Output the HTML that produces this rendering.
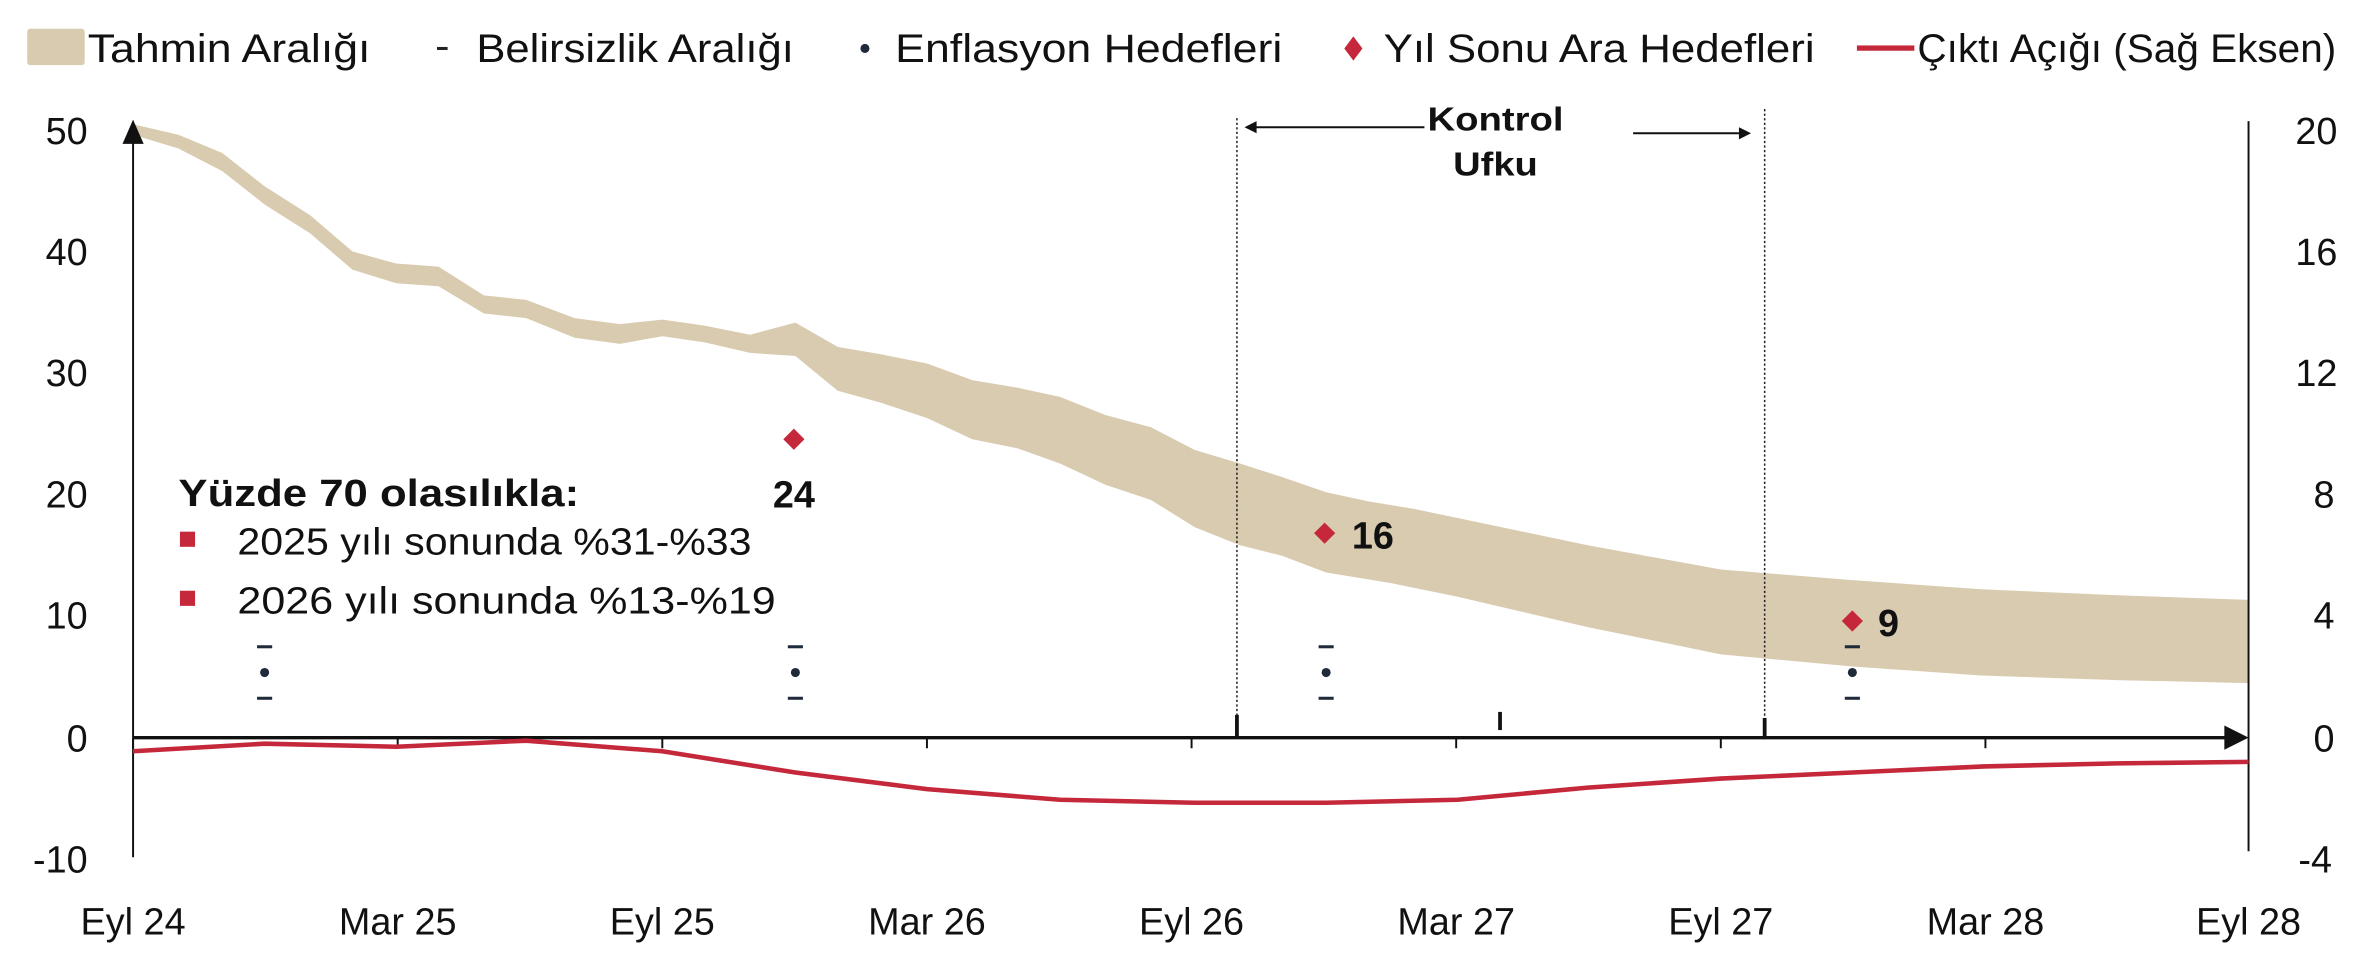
<!DOCTYPE html>
<html><head><meta charset="utf-8"><style>
html,body{margin:0;padding:0;background:#fff;}
svg{display:block;}
text{font-family:"Liberation Sans",sans-serif;fill:#111;}
</style></head><body>
<svg width="2368" height="980" viewBox="0 0 1566 647" preserveAspectRatio="none" xmlns="http://www.w3.org/2000/svg">
<!-- legend -->
<rect x="18" y="19" width="38" height="24" rx="2" fill="#d9cbb0"/>
<text x="58" y="41" font-size="26" textLength="187" lengthAdjust="spacingAndGlyphs">Tahmin Aralığı</text>
<rect x="289" y="31" width="7" height="2" fill="#222"/>
<text x="315" y="41" font-size="26" textLength="210" lengthAdjust="spacingAndGlyphs">Belirsizlik Aralığı</text>
<circle cx="572" cy="32" r="3" fill="#1f2a3a"/>
<text x="592" y="41" font-size="26" textLength="256" lengthAdjust="spacingAndGlyphs">Enflasyon Hedefleri</text>
<polygon points="895,24 901,32 895,40 889,32" fill="#c4283a"/>
<text x="915" y="41" font-size="26" textLength="285" lengthAdjust="spacingAndGlyphs">Yıl Sonu Ara Hedefleri</text>
<rect x="1228" y="30" width="38" height="3.5" fill="#c4283a"/>
<text x="1268" y="41" font-size="26" textLength="277" lengthAdjust="spacingAndGlyphs">Çıktı Açığı (Sağ Eksen)</text>

<!-- band -->
<polygon fill="#d9cbb0" points="88,82 118,89 147,101 175,123 205,142 233,166 262,174 290,176 320,195 348,198 380,210 410,214 438,211 466,215 496,221 526,213 554,229 583,234 613,240 643,251 673,256 701,262 731,274 761,282 790,297 820,306 848,315 877,325 905,331 935,336 964,342 1050,360 1138,376 1225,383 1310,389 1400,393 1487,396
1487,451 1400,449 1310,446 1225,440 1138,432 1050,414 964,394 920,385 877,378 848,367 820,360 790,348 761,330 731,320 701,306 673,296 643,290 613,276 583,266 554,258 526,235 496,233 466,226 438,222 410,227 380,223 348,210 320,207 290,189 262,187 233,178 205,154 175,135 147,113 118,98 88,89"/>

<!-- dotted lines -->
<line x1="818" y1="78" x2="818" y2="485" stroke="#222" stroke-width="1" stroke-dasharray="1.5,1.5"/>
<line x1="1167" y1="72" x2="1167" y2="485" stroke="#222" stroke-width="1" stroke-dasharray="1.5,1.5"/>
<!-- Kontrol Ufku -->
<text x="989" y="86" font-size="22" font-weight="bold" text-anchor="middle" textLength="90" lengthAdjust="spacingAndGlyphs">Kontrol</text>
<text x="989" y="116" font-size="22" font-weight="bold" text-anchor="middle" textLength="56" lengthAdjust="spacingAndGlyphs">Ufku</text>
<line x1="942" y1="84" x2="830" y2="84" stroke="#111" stroke-width="1.3"/>
<polygon points="823,84 831,80 831,88" fill="#111"/>
<line x1="1080" y1="88" x2="1150" y2="88" stroke="#111" stroke-width="1.3"/>
<polygon points="1158,88 1150,84 1150,92" fill="#111"/>

<!-- axes -->
<line x1="88" y1="92" x2="88" y2="566" stroke="#111" stroke-width="1.3"/>
<polygon points="88,79 81,95 95,95" fill="#111"/>
<line x1="1487" y1="80" x2="1487" y2="562" stroke="#111" stroke-width="1.3"/>
<line x1="88" y1="487" x2="1474" y2="487" stroke="#111" stroke-width="2.2"/>
<polygon points="1487,487 1471,479 1471,495" fill="#111"/>
<g stroke="#111" stroke-width="1.3">
<line x1="88" y1="487" x2="88" y2="494"/><line x1="263" y1="487" x2="263" y2="494"/><line x1="438" y1="487" x2="438" y2="494"/><line x1="613" y1="487" x2="613" y2="494"/><line x1="788" y1="487" x2="788" y2="494"/><line x1="963" y1="487" x2="963" y2="494"/><line x1="1138" y1="487" x2="1138" y2="494"/><line x1="1313" y1="487" x2="1313" y2="494"/>
</g>
<g stroke="#111" stroke-width="2.5">
<line x1="818" y1="472" x2="818" y2="486"/><line x1="992" y1="470" x2="992" y2="482"/><line x1="1167" y1="474" x2="1167" y2="488"/>
</g>

<!-- left ticks -->
<g font-size="25" text-anchor="end">
<text x="58" y="95">50</text><text x="58" y="175">40</text><text x="58" y="255">30</text><text x="58" y="335">20</text><text x="58" y="415">10</text><text x="58" y="496">0</text><text x="58" y="576">-10</text>
</g>
<g font-size="25" text-anchor="start">
<text x="1518" y="95">20</text><text x="1518" y="175">16</text><text x="1518" y="255">12</text><text x="1530" y="335">8</text><text x="1530" y="415">4</text><text x="1530" y="496">0</text><text x="1520" y="576">-4</text>
</g>
<g font-size="25" text-anchor="middle">
<text x="88" y="617">Eyl 24</text><text x="263" y="617">Mar 25</text><text x="438" y="617">Eyl 25</text><text x="613" y="617">Mar 26</text><text x="788" y="617">Eyl 26</text><text x="963" y="617">Mar 27</text><text x="1138" y="617">Eyl 27</text><text x="1313" y="617">Mar 28</text><text x="1487" y="617">Eyl 28</text>
</g>

<!-- output gap -->
<polyline fill="none" stroke="#c4283a" stroke-width="3" points="88,496 175,491 262,493 348,489 438,496 526,510 613,521 701,528 790,530 877,530 964,528 1050,520 1138,514 1225,510 1312,506 1400,504 1487,503"/>

<!-- targets -->
<g fill="#1f2a3a">
<circle cx="175" cy="444" r="3"/><rect x="170" y="426" width="10" height="2"/><rect x="170" y="460" width="10" height="2"/>
<circle cx="526" cy="444" r="3"/><rect x="521" y="426" width="10" height="2"/><rect x="521" y="460" width="10" height="2"/>
<circle cx="877" cy="444" r="3"/><rect x="872" y="426" width="10" height="2"/><rect x="872" y="460" width="10" height="2"/>
<circle cx="1225" cy="444" r="3"/><rect x="1220" y="426" width="10" height="2"/><rect x="1220" y="460" width="10" height="2"/>
</g>
<g fill="#c4283a">
<polygon points="525,283 532,290 525,297 518,290"/>
<polygon points="876,345 883,352 876,359 869,352"/>
<polygon points="1225,403 1232,410 1225,417 1218,410"/>
</g>
<g font-size="25" font-weight="bold">
<text x="525" y="335" text-anchor="middle">24</text>
<text x="894" y="362">16</text>
<text x="1242" y="420">9</text>
</g>

<!-- annotation -->
<text x="118" y="334" font-size="25" font-weight="bold" textLength="265" lengthAdjust="spacingAndGlyphs">Yüzde 70 olasılıkla:</text>
<rect x="119" y="351" width="10" height="10" fill="#c4283a"/>
<text x="157" y="366" font-size="25" textLength="340" lengthAdjust="spacingAndGlyphs">2025 yılı sonunda %31-%33</text>
<rect x="119" y="390" width="10" height="10" fill="#c4283a"/>
<text x="157" y="405" font-size="25" textLength="356" lengthAdjust="spacingAndGlyphs">2026 yılı sonunda %13-%19</text>
</svg>
</body></html>
